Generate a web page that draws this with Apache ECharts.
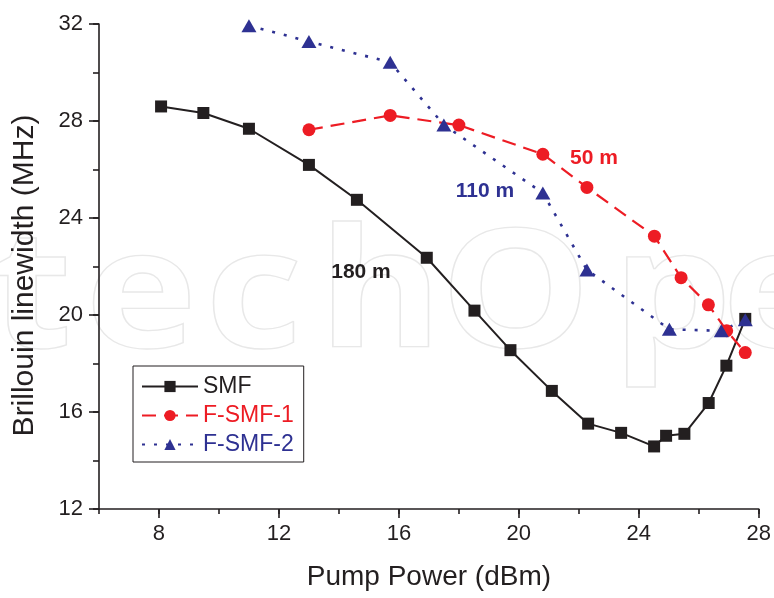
<!DOCTYPE html>
<html>
<head>
<meta charset="utf-8">
<script src="https://cdn.jsdelivr.net/npm/echarts@6/dist/echarts.min.js"></script>
<style>
html,body{margin:0;padding:0;background:#fff;}
#chart{width:774px;height:598px;}
</style>
</head>
<body>
<div id="chart"></div>
<script>
// ---- Data ----
const smfX = [8.07, 9.48, 11.0, 13.0, 14.6, 16.93, 18.52, 19.72, 21.1, 22.31, 23.41, 24.51, 24.91, 25.52, 26.33, 26.92, 27.55];
const smfY = [28.6, 28.33, 27.68, 26.19, 24.75, 22.36, 20.18, 18.55, 16.87, 15.52, 15.14, 14.58, 15.02, 15.1, 16.37, 17.91, 19.84];

const f1X = [13.0, 15.71, 18.0, 20.8, 22.27, 24.52, 25.41, 26.32, 26.93, 27.55];
const f1Y = [27.64, 28.23, 27.83, 26.63, 25.26, 23.25, 21.54, 20.42, 19.35, 18.45];

const f2X = [11.0, 13.0, 15.71, 17.5, 20.8, 22.27, 25.02, 26.75, 27.55];
const f2Y = [31.93, 31.28, 30.42, 27.84, 25.03, 21.86, 19.41, 19.35, 19.8];

const seriesNames = ['SMF', 'F-SMF-1', 'F-SMF-2'];
const xTickLabels = [8, 12, 16, 20, 24, 28];
const xMinorTicks = [6, 8, 10, 12, 14, 16, 18, 20, 22, 24, 26, 28];
const yTickLabels = [12, 16, 20, 24, 28, 32];
const yMinorTicks = [12, 14, 16, 18, 20, 22, 24, 26, 28, 30, 32];
const annotations = ['180 m', '110 m', '50 m'];

const xName = 'Pump Power (dBm)';
const yName = 'Brillouin linewidth (MHz)';

const zip = (xs, ys) => xs.map((x, i) => [x, ys[i]]);

const INK = '#231f20';
const RED = '#ed1c24';
const BLUE = '#2e3192';
const FONT = '"Liberation Sans", Arial, Helvetica, sans-serif';

const chart = echarts.init(document.getElementById('chart'), null, {renderer: 'canvas'});

const wmLetters = [['t', -10], ['e', 85], ['c', 205], ['h', 318], ['O', 440], ['p', 612], ['e', 722]];

const option = {
  backgroundColor: '#fff',
  animation: false,
  textStyle: {fontFamily: FONT},
  grid: {left: 99, right: 14, top: 24, bottom: 89, containLabel: false},
  xAxis: [
    {
      type: 'value', min: 6, max: 28, interval: 2,
      name: xName, nameLocation: 'middle', nameGap: 54,
      nameTextStyle: {fontSize: 28, color: INK, fontFamily: FONT},
      axisLine: {show: true, lineStyle: {color: INK, width: 1.6}},
      axisTick: {show: true, length: 9, customValues: xTickLabels, lineStyle: {color: INK, width: 1.6}},
      axisLabel: {show: true, customValues: xTickLabels, fontSize: 22, color: INK, margin: 14, fontFamily: FONT},
      splitLine: {show: false}
    },
    {
      type: 'value', min: 6, max: 28, interval: 2, position: 'bottom', gridIndex: 0,
      axisLine: {show: false},
      axisTick: {show: true, length: 5, customValues: xMinorTicks, lineStyle: {color: INK, width: 1.6}},
      axisLabel: {show: false},
      splitLine: {show: false}
    }
  ],
  yAxis: [
    {
      type: 'value', min: 12, max: 32, interval: 2,
      name: yName, nameLocation: 'middle', nameGap: 59,
      nameTextStyle: {fontSize: 30, color: INK, fontFamily: FONT, padding: [0, 18, 0, 0]},
      axisLine: {show: true, lineStyle: {color: INK, width: 1.6}},
      axisTick: {show: true, length: 10, customValues: yTickLabels, lineStyle: {color: INK, width: 1.6}},
      axisLabel: {show: true, customValues: yTickLabels, fontSize: 22, color: INK, margin: 16, fontFamily: FONT},
      splitLine: {show: false}
    },
    {
      type: 'value', min: 12, max: 32, interval: 2, position: 'left', gridIndex: 0,
      axisLine: {show: false},
      axisTick: {show: true, length: 6, customValues: yMinorTicks, lineStyle: {color: INK, width: 1.6}},
      axisLabel: {show: false},
      splitLine: {show: false}
    }
  ],
  legend: {
    orient: 'vertical', left: 133, top: 366,
    padding: [9, 10, 6, 8],
    itemWidth: 56, itemHeight: 14, itemGap: 6,
    borderColor: INK, borderWidth: 1,
    backgroundColor: '#fff',
    textStyle: {fontSize: 23, lineHeight: 22, fontFamily: FONT},
    data: [
      {name: seriesNames[0], textStyle: {color: INK}},
      {name: seriesNames[1], textStyle: {color: RED}},
      {name: seriesNames[2], textStyle: {color: BLUE}}
    ]
  },
  graphic: [
    ...wmLetters.map(([ch, x]) => ({
      type: 'text', x: x, y: 300, scaleX: 1.15, silent: true, z: -10,
      style: {text: ch, font: 'bold 165px "Open Sans", sans-serif', fill: 'rgba(0,0,0,0)', stroke: '#e8e8e8', lineWidth: 1.3, textAlign: 'left', textVerticalAlign: 'middle'}
    })),
    {type: 'text', x: 361, y: 272, z: 100, style: {text: annotations[0], font: 'bold 21px ' + FONT, fill: INK, textAlign: 'center', textVerticalAlign: 'middle'}},
    {type: 'text', x: 485, y: 191, z: 100, style: {text: annotations[1], font: 'bold 21px ' + FONT, fill: BLUE, textAlign: 'center', textVerticalAlign: 'middle'}},
    {type: 'text', x: 594, y: 158, z: 100, style: {text: annotations[2], font: 'bold 21px ' + FONT, fill: RED, textAlign: 'center', textVerticalAlign: 'middle'}}
  ],
  series: [
    {
      name: seriesNames[0], type: 'line', xAxisIndex: 0, yAxisIndex: 0,
      data: zip(smfX, smfY), clip: false,
      symbol: 'rect', symbolSize: 12,
      lineStyle: {color: INK, width: 2, type: 'solid'},
      itemStyle: {color: INK},
      emphasis: {disabled: true}
    },
    {
      name: seriesNames[1], type: 'line', xAxisIndex: 0, yAxisIndex: 0,
      data: zip(f1X, f1Y), clip: false,
      symbol: 'circle', symbolSize: 13,
      lineStyle: {color: RED, width: 2.2, type: [14, 8]},
      itemStyle: {color: RED},
      emphasis: {disabled: true}
    },
    {
      name: seriesNames[2], type: 'line', xAxisIndex: 0, yAxisIndex: 0,
      data: zip(f2X, f2Y), clip: false,
      symbol: 'triangle', symbolSize: [15, 13],
      lineStyle: {color: BLUE, width: 2.6, type: [3, 9]},
      itemStyle: {color: BLUE},
      emphasis: {disabled: true}
    }
  ]
};
chart.setOption(option);
</script>
</body>
</html>
